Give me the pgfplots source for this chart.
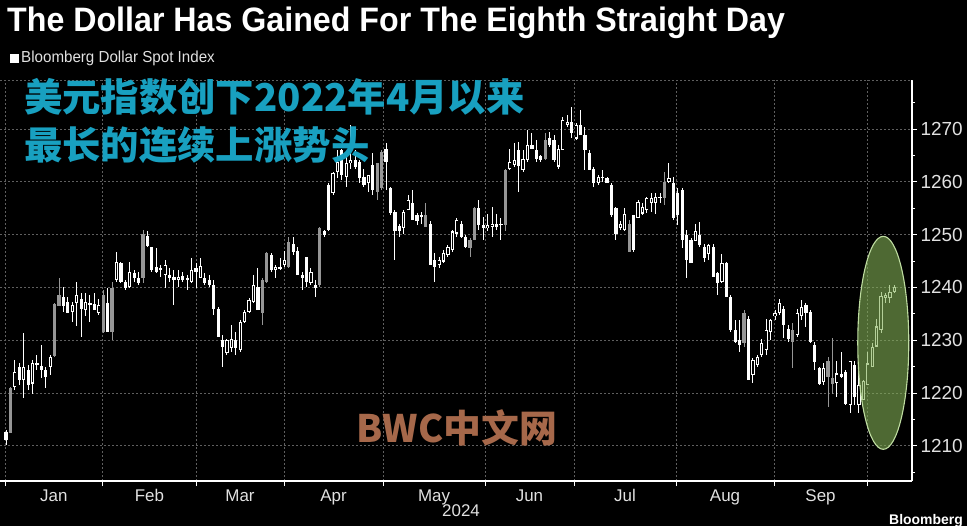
\documentclass[border=0pt]{standalone}
\usepackage{fontspec}
\usepackage{pgfplots}
\usepackage{pgfplotstable}
\pgfplotsset{compat=1.18}
\setmainfont{Liberation Sans}
\newfontfamily\titlefont{Liberation Sans}[FakeStretch=0.95]
\newfontfamily\subfont{Liberation Sans}[FakeStretch=0.95]
\newfontfamily\cjk{Noto Sans CJK SC}

\definecolor{cjkcyan}{RGB}{24,160,192}
\definecolor{wmbrown}{RGB}{166,104,74}
\definecolor{candlegray}{RGB}{150,150,150}
\definecolor{gridgray}{RGB}{95,95,95}
\definecolor{labelgray}{RGB}{225,225,225}
\definecolor{ellfill}{RGB}{130,175,85}
\definecolor{elledge}{RGB}{190,220,160}

% Bloomberg Dollar Spot Index, daily candles (k = trading day from 2 Jan 2024)
% k  open  high  low  close  t (0 white, 1 grey, 2 hollow)
\pgfplotstableread{
k o h l c t
1 1212.7 1213.0 1210.2 1211.1 0
2 1212.5 1221.2 1212.4 1220.9 1
3 1221.2 1226.2 1220.6 1224.0 2
4 1225.0 1225.6 1221.5 1222.5 0
5 1222.5 1231.3 1219.0 1225.0 2
6 1224.4 1225.3 1220.6 1221.5 0
7 1221.8 1226.2 1219.9 1225.7 2
8 1225.3 1227.2 1224.4 1225.7 2
9 1225.1 1229.1 1222.8 1224.4 0
10 1224.4 1225.0 1220.9 1223.1 0
11 1225.0 1227.2 1223.4 1226.8 2
12 1227.0 1237.0 1226.9 1236.9 1
13 1236.4 1241.7 1236.4 1238.6 1
14 1238.2 1240.1 1235.4 1236.4 0
15 1237.3 1238.2 1235.1 1235.2 0
16 1235.4 1237.3 1233.5 1236.7 2
17 1237.0 1241.1 1232.6 1238.6 2
18 1237.9 1238.9 1230.7 1236.0 0
19 1235.7 1238.9 1234.5 1237.3 2
20 1237.0 1238.6 1233.5 1236.6 0
21 1236.9 1238.9 1235.7 1235.7 0
22 1235.1 1237.9 1234.8 1236.7 2
23 1231.6 1239.5 1231.3 1238.6 1
24 1237.0 1239.8 1231.6 1231.6 0
25 1231.6 1241.1 1230.0 1239.8 1
26 1241.4 1246.8 1241.1 1244.9 2
27 1244.7 1244.9 1240.8 1241.1 0
28 1241.1 1241.4 1239.5 1239.8 0
29 1240.1 1244.9 1239.8 1243.0 2
30 1242.8 1243.3 1241.1 1241.7 0
31 1241.7 1243.0 1240.5 1240.9 0
32 1241.7 1250.9 1240.8 1250.2 1
33 1249.7 1250.6 1247.7 1247.8 0
34 1247.7 1247.7 1243.0 1243.3 0
35 1243.9 1247.4 1242.7 1243.0 0
36 1243.3 1244.2 1242.0 1243.7 2
37 1242.4 1245.2 1239.8 1244.2 2
38 1242.4 1243.6 1241.1 1241.7 0
39 1242.0 1243.3 1236.7 1241.4 0
40 1241.4 1243.3 1240.1 1242.0 2
41 1242.2 1243.0 1241.1 1241.4 0
42 1241.4 1242.4 1239.5 1241.7 2
43 1241.1 1245.5 1240.8 1243.3 2
44 1243.6 1244.6 1239.8 1243.0 0
45 1241.7 1245.5 1241.7 1244.1 2
46 1241.7 1242.7 1240.5 1240.8 0
47 1241.4 1242.4 1240.1 1240.5 0
48 1240.5 1241.4 1234.8 1236.0 0
49 1236.0 1236.3 1230.7 1230.7 0
50 1230.0 1231.0 1225.0 1228.8 0
51 1227.5 1230.3 1227.2 1230.0 2
52 1228.5 1232.9 1227.8 1230.3 2
53 1230.0 1231.6 1227.2 1228.5 0
54 1228.1 1233.8 1227.8 1233.5 2
55 1233.5 1235.7 1233.2 1235.4 2
56 1235.4 1237.9 1235.1 1237.6 2
57 1237.3 1242.4 1237.0 1240.5 2
58 1240.1 1243.6 1235.7 1235.7 0
59 1235.1 1241.7 1232.9 1241.4 1
60 1241.1 1246.8 1240.8 1246.5 1
61 1246.1 1246.5 1243.0 1243.3 0
62 1243.3 1244.2 1241.7 1243.9 2
63 1243.9 1245.5 1243.3 1243.6 0
64 1244.2 1246.8 1243.9 1245.2 2
65 1243.9 1249.6 1243.6 1248.7 1
66 1248.3 1249.6 1246.1 1246.8 0
67 1246.8 1247.7 1242.4 1242.4 0
68 1242.4 1243.0 1239.5 1241.7 0
69 1245.8 1245.8 1240.1 1241.1 0
70 1240.8 1243.6 1240.5 1243.0 2
71 1240.5 1241.4 1238.2 1239.8 0
72 1240.5 1251.5 1240.1 1251.2 1
73 1250.6 1250.9 1249.6 1249.9 0
74 1250.9 1259.7 1250.6 1259.4 0
75 1257.8 1261.9 1257.5 1261.6 2
76 1261.9 1266.0 1260.7 1263.8 2
77 1266.0 1266.3 1260.3 1261.3 0
78 1261.0 1265.4 1259.1 1263.5 2
79 1263.5 1270.8 1262.5 1264.1 2
80 1264.1 1266.0 1262.5 1262.9 0
81 1263.8 1264.1 1259.7 1260.7 0
82 1261.0 1262.5 1259.1 1259.4 0
83 1259.7 1261.3 1258.1 1261.3 2
84 1263.2 1265.4 1257.5 1258.5 0
85 1258.1 1263.5 1256.6 1263.5 1
86 1265.7 1266.0 1258.5 1258.8 1
87 1263.8 1267.3 1258.5 1266.3 0
88 1258.8 1259.1 1253.7 1254.0 0
89 1254.3 1254.7 1245.2 1250.6 0
90 1251.6 1252.1 1249.6 1250.6 0
91 1251.2 1254.7 1250.2 1254.3 2
92 1254.7 1257.5 1254.7 1256.6 2
93 1255.9 1258.5 1252.8 1252.8 0
94 1253.7 1254.0 1251.8 1252.5 0
95 1253.4 1254.3 1252.1 1253.7 2
96 1253.7 1255.9 1251.5 1251.5 1
97 1252.1 1252.5 1244.2 1244.2 0
98 1245.2 1246.5 1241.1 1243.9 0
99 1244.2 1245.8 1243.6 1245.2 2
100 1244.9 1247.1 1244.6 1246.5 2
101 1246.1 1248.0 1245.8 1247.7 2
102 1247.1 1250.9 1246.8 1250.6 2
103 1250.2 1253.1 1249.6 1252.8 2
104 1252.1 1252.5 1249.3 1249.6 0
105 1249.6 1249.9 1247.4 1247.7 0
106 1247.4 1249.3 1245.8 1249.0 1
107 1249.0 1255.3 1249.0 1255.0 1
108 1255.0 1256.6 1250.9 1251.8 0
109 1251.8 1253.4 1249.0 1251.2 0
110 1251.2 1254.0 1250.6 1251.8 2
111 1251.5 1255.3 1249.6 1252.1 2
112 1252.1 1254.0 1250.9 1251.5 0
113 1251.8 1253.1 1249.0 1252.1 2
114 1251.8 1262.5 1250.6 1262.2 1
115 1262.5 1266.3 1262.2 1263.8 2
116 1263.2 1267.3 1262.9 1264.1 2
117 1266.0 1267.6 1258.1 1262.9 0
118 1262.2 1266.0 1261.9 1264.4 2
119 1264.1 1269.8 1263.8 1267.0 2
120 1267.0 1269.2 1266.3 1266.3 0
121 1266.0 1267.9 1263.8 1264.4 0
122 1264.8 1265.1 1263.8 1264.1 0
123 1264.4 1269.2 1264.1 1267.9 1
124 1268.2 1269.5 1266.6 1267.0 0
125 1267.9 1268.9 1263.8 1264.1 0
126 1262.9 1267.0 1262.5 1266.3 2
127 1266.0 1272.3 1266.0 1271.7 2
128 1270.8 1272.6 1270.4 1271.4 2
129 1271.4 1274.2 1268.2 1269.2 0
130 1268.2 1271.1 1267.9 1270.8 2
131 1270.8 1273.6 1268.9 1268.9 0
132 1268.9 1270.4 1262.2 1266.0 0
133 1265.4 1266.0 1262.2 1262.2 0
134 1262.5 1262.9 1259.1 1259.7 0
135 1259.7 1261.3 1259.4 1261.0 2
136 1261.0 1262.2 1260.0 1260.7 0
137 1260.8 1261.0 1259.7 1259.8 0
138 1259.4 1259.7 1253.4 1253.7 0
139 1255.0 1255.3 1249.0 1250.2 0
140 1251.2 1252.5 1250.9 1252.1 2
141 1250.9 1255.0 1250.6 1254.0 2
142 1252.1 1252.8 1246.8 1246.8 1
143 1247.1 1253.7 1246.8 1253.7 0
144 1253.1 1256.6 1253.1 1256.2 2
145 1254.0 1255.9 1253.7 1255.3 2
146 1254.7 1257.2 1254.0 1256.9 2
147 1255.9 1257.8 1254.3 1256.9 2
148 1255.9 1257.8 1254.0 1257.2 2
149 1256.9 1257.8 1255.9 1257.2 2
150 1256.9 1261.9 1255.6 1260.0 1
151 1260.0 1263.5 1259.7 1260.7 2
152 1259.7 1261.0 1252.8 1253.1 0
153 1257.8 1258.8 1251.8 1253.7 0
154 1258.4 1258.8 1247.4 1249.0 0
155 1249.9 1250.9 1241.7 1245.2 0
156 1249.0 1249.3 1244.6 1244.6 0
157 1248.7 1252.1 1248.7 1250.6 2
158 1249.9 1252.4 1247.7 1248.0 0
159 1247.7 1248.3 1244.9 1245.5 0
160 1246.4 1248.3 1245.2 1248.0 2
161 1247.7 1248.3 1242.0 1242.0 0
162 1242.7 1243.0 1238.6 1240.8 0
163 1241.1 1246.4 1240.8 1244.6 2
164 1244.6 1244.9 1238.2 1238.2 0
165 1238.2 1238.6 1231.6 1231.9 0
166 1231.9 1233.8 1229.4 1229.7 0
167 1230.0 1233.8 1227.8 1229.1 0
168 1229.4 1235.7 1228.8 1235.1 1
169 1234.1 1234.5 1222.4 1222.4 0
170 1223.4 1226.6 1221.8 1226.2 2
171 1225.3 1227.2 1225.0 1226.9 2
172 1227.2 1230.3 1226.9 1229.4 2
173 1228.1 1234.1 1227.2 1231.9 2
174 1231.6 1234.1 1230.0 1233.8 2
175 1234.5 1235.7 1233.8 1235.1 2
176 1235.1 1237.9 1234.8 1237.0 2
177 1236.0 1236.4 1230.4 1232.9 0
178 1232.2 1232.9 1229.7 1230.3 0
179 1231.9 1233.2 1224.7 1229.7 1
180 1231.0 1236.0 1230.7 1235.1 2
181 1234.5 1237.6 1233.8 1236.3 2
182 1236.7 1237.0 1232.6 1235.1 0
183 1235.4 1235.7 1229.4 1229.7 0
184 1229.1 1229.7 1224.4 1225.9 0
185 1224.7 1225.0 1221.5 1221.8 0
186 1222.1 1225.6 1221.5 1224.7 2
187 1223.1 1226.9 1217.4 1226.0 1
188 1222.8 1230.4 1219.9 1221.8 1
189 1221.8 1226.0 1219.3 1223.7 2
190 1223.7 1227.8 1222.8 1223.1 0
191 1224.0 1224.4 1217.7 1218.0 0
192 1217.7 1226.0 1216.2 1226.0 2
193 1225.3 1226.0 1217.7 1219.3 0
194 1217.7 1224.7 1216.2 1221.5 2
195 1218.7 1222.5 1218.7 1222.2 2
196 1221.5 1227.8 1221.5 1225.6 2
197 1225.0 1229.4 1225.0 1228.8 2
198 1228.8 1234.1 1228.8 1232.6 2
199 1231.9 1239.2 1231.3 1238.3 2
200 1238.0 1238.9 1237.0 1238.6 2
201 1238.0 1240.5 1237.0 1239.2 2
202 1239.2 1240.5 1238.9 1240.1 2
}\candles

\begin{document}
\begin{tikzpicture}
\fill[black] (0,0) rectangle (967bp,526bp);
\useasboundingbox (0,0) rectangle (967bp,526bp);

\node[anchor=base west, text=white, inner sep=0pt]
  at (7bp,494bp) {\fontsize{34}{34}\titlefont\bfseries The Dollar Has Gained For The Eighth Straight Day};
\node[anchor=base west, text=labelgray, inner sep=0pt]
  at (10bp,463bp) {\textcolor{white}{\rule{9bp}{9bp}}\hspace{2bp}\fontsize{16}{16}\subfont Bloomberg Dollar Spot Index};

\begin{axis}[
  at={(0bp,45bp)}, anchor=south west,
  width=912bp, height=401bp, scale only axis,
  xmin=-0.36, xmax=206, ymin=1203.33, ymax=1279.28,
  axis x line*=bottom, axis y line*=right,
  axis line style={white, line width=1.2bp},
  xtick={0.77,22.9,44.0,63.9,86.3,109.4,129.5,152.6,174.8,195.8},
  xticklabels={Jan,Feb,Mar,Apr,May,Jun,Jul,Aug,Sep},
  x tick label as interval,
  ytick={1210,1220,...,1270},
  minor ytick={1205,1215,...,1275},
  tick align=outside,
  major tick length=5bp, minor tick length=3bp,
  tick style={white, line width=0.8bp},
  xmajorgrids, ymajorgrids,
  grid style={gridgray, dash pattern=on 2bp off 2bp, line width=0.7bp},
  xticklabel style={text=labelgray, font=\fontsize{17}{17}\selectfont},
  yticklabel style={text=labelgray, font=\fontsize{19}{19}\selectfont},
  /pgf/number format/assume math mode=true,
  /pgf/number format/1000 sep={},
]
% wicks
\addplot[draw=none, mark=none, forget plot,
  error bars/.cd, y dir=both, y explicit, error mark=none,
  error bar style={draw=white, line width=1bp}]
  table[x=k, y expr={(\thisrow{h}+\thisrow{l})/2}, y error expr={(\thisrow{h}-\thisrow{l})/2}] {\candles};
\addplot[draw=none, mark=none, forget plot,
  restrict expr to domain={\thisrow{t}}{1:1},
  error bars/.cd, y dir=both, y explicit, error mark=none,
  error bar style={draw=candlegray, line width=1bp}]
  table[x=k, y expr={(\thisrow{h}+\thisrow{l})/2}, y error expr={(\thisrow{h}-\thisrow{l})/2}] {\candles};
% bodies: white filled
\addplot[draw=none, mark=none, forget plot,
  restrict expr to domain={\thisrow{t}}{0:0},
  error bars/.cd, y dir=both, y explicit, error mark=none,
  error bar style={draw=white, line width=3.2bp}]
  table[x=k, y expr={(\thisrow{o}+\thisrow{c})/2}, y error expr={max(abs(\thisrow{o}-\thisrow{c})/2,0.15)}] {\candles};
% grey filled
\addplot[draw=none, mark=none, forget plot,
  restrict expr to domain={\thisrow{t}}{1:1},
  error bars/.cd, y dir=both, y explicit, error mark=none,
  error bar style={draw=candlegray, line width=3.2bp}]
  table[x=k, y expr={(\thisrow{o}+\thisrow{c})/2}, y error expr={max(abs(\thisrow{o}-\thisrow{c})/2,0.15)}] {\candles};
% hollow: outline then black inside
\addplot[draw=none, mark=none, forget plot,
  restrict expr to domain={\thisrow{t}}{2:2},
  error bars/.cd, y dir=both, y explicit, error mark=none,
  error bar style={draw=white, line width=3.2bp}]
  table[x=k, y expr={(\thisrow{o}+\thisrow{c})/2}, y error expr={max(abs(\thisrow{o}-\thisrow{c})/2,0.15)}] {\candles};
\addplot[draw=none, mark=none, forget plot,
  restrict expr to domain={\thisrow{t}}{2:2},
  error bars/.cd, y dir=both, y explicit, error mark=none,
  error bar style={draw=black, line width=1.4bp}]
  table[x=k, y expr={(\thisrow{o}+\thisrow{c})/2}, y error expr={max(abs(\thisrow{o}-\thisrow{c})/2-0.2,0)}] {\candles};

\draw[gridgray, dash pattern=on 2bp off 2bp, line width=0.7bp] (rel axis cs:0,1) -- (rel axis cs:1,1);
\fill[ellfill, fill opacity=0.6] (axis cs:199.5,1229.5) ellipse [x radius=25.5bp, y radius=106.5bp];
\draw[elledge, line width=1.1bp] (axis cs:199.5,1229.5) ellipse [x radius=25.5bp, y radius=106.5bp];
\end{axis}

\node[anchor=base west, text=cjkcyan, inner sep=0pt]
  at (24bp,414bp) {\fontsize{38.5}{38.5}\cjk\bfseries 美元指数创下2022年4月以来};
\node[anchor=base west, text=cjkcyan, inner sep=0pt]
  at (24bp,366bp) {\fontsize{38.5}{38.5}\cjk\bfseries 最长的连续上涨势头};
\node[text=wmbrown, inner sep=0pt]
  at (457bp,98bp) {\fontsize{38}{38}\cjk\bfseries BWC中文网};
\node[text=labelgray, inner sep=0pt]
  at (461bp,15bp) {\fontsize{17}{17}\selectfont 2024};
\node[anchor=base east, text=white, inner sep=0pt]
  at (963bp,2bp) {\fontsize{14}{14}\selectfont\bfseries Bloomberg};
\end{tikzpicture}
\end{document}
